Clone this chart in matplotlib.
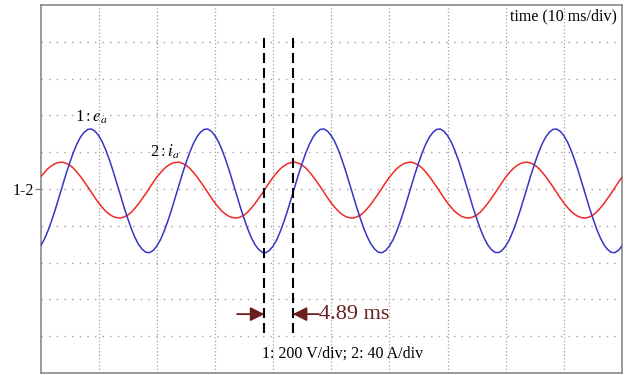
import numpy as np
import matplotlib
matplotlib.use("Agg")
import matplotlib.pyplot as plt

# ---- data (time in ms, amplitude in divisions) ----
t_step_ms = 0.625
time_ms = [i * t_step_ms for i in range(161)]

cycle_ea = [-1.55, -1.38, -1.15, -0.88, -0.58, -0.26, 0.07, 0.40,
            0.70, 0.98, 1.22, 1.41, 1.54, 1.62, 1.63, 1.57,
            1.45, 1.28, 1.05, 0.78, 0.48, 0.16, -0.17, -0.50,
            -0.80, -1.08, -1.32, -1.51, -1.64, -1.72, -1.73, -1.67]
cycle_ia = [0.32, 0.44, 0.55, 0.63, 0.69, 0.72, 0.73, 0.70,
            0.65, 0.57, 0.46, 0.34, 0.20, 0.06, -0.09, -0.24,
            -0.38, -0.50, -0.61, -0.69, -0.75, -0.78, -0.79, -0.76,
            -0.71, -0.63, -0.52, -0.40, -0.26, -0.12, 0.03, 0.18]
e_a = (cycle_ea * 6)[:161]
i_a = (cycle_ia * 6)[:161]

cursor_ms = [38.50, 43.39]
delay_label = "4.89 ms"
time_label = "time (10 ms/div)"
scale_label = "1: 200 V/div; 2: 40 A/div"
channel_label = "1-2"

plt.rcParams['font.family'] = ['Liberation Serif', 'DejaVu Serif']
plt.rcParams['mathtext.fontset'] = 'stix'

fig = plt.figure(figsize=(6.27, 3.75), dpi=100)
ax = fig.add_axes([40.5 / 627, 2 / 375, 581.5 / 627, 368 / 375])
ax.set_xlim(0, 100)
ax.set_ylim(-5, 5)

# grid
for gx in range(10, 100, 10):
    ax.axvline(gx, color='#a0a0a0', lw=0.9, ls=(0, (1, 1.8)), zorder=1)
for gy in range(-4, 5):
    ax.axhline(gy, color='#a0a0a0', lw=1.0, ls=(0, (1, 4.5)), zorder=1)

ax.plot(time_ms, i_a, color='#f02828', lw=1.1, zorder=3)
ax.plot(time_ms, e_a, color='#3535c4', lw=1.1, zorder=3)

for cx in cursor_ms:
    ax.plot([cx, cx], [4.10, -3.91], color='black', lw=1.5,
            dashes=(4.8, 2.4), zorder=4)

arrow_col = '#6b1e1e'
ax.annotate('', xy=(cursor_ms[0], -3.40), xytext=(33.8, -3.40),
            arrowprops=dict(arrowstyle='-|>,head_length=0.6,head_width=0.3',
                            color=arrow_col, lw=1.3,
                            mutation_scale=14, shrinkA=0, shrinkB=0))
ax.annotate('', xy=(cursor_ms[1], -3.40), xytext=(47.9, -3.40),
            arrowprops=dict(arrowstyle='-|>,head_length=0.6,head_width=0.3',
                            color=arrow_col, lw=1.3,
                            mutation_scale=14, shrinkA=0, shrinkB=0))
ax.text(47.9, -3.40, delay_label, color=arrow_col, fontsize=16,
        ha='left', va='center')

ax.text(0.991, 0.968, time_label, transform=ax.transAxes, fontsize=11.5,
        ha='right', va='center')
ax.text(0.520, 0.0535, scale_label, transform=ax.transAxes, fontsize=11.5,
        ha='center', va='center')

ax.text(8.7, 1.96, r'1$:e_a$', fontsize=12, ha='center', va='center')
ax.text(21.4, 1.0, r'2$:i_a$', fontsize=12, ha='center', va='center')

ax.set_xticks([])
ax.set_yticks([0])
ax.set_yticklabels([channel_label], fontsize=11.5)
ax.tick_params(axis='y', direction='out', length=4, width=1, color='#808080',
               pad=1)
for s in ax.spines.values():
    s.set_color('#808080')
    s.set_linewidth(1.1)

fig.savefig('out.png', dpi=100)
